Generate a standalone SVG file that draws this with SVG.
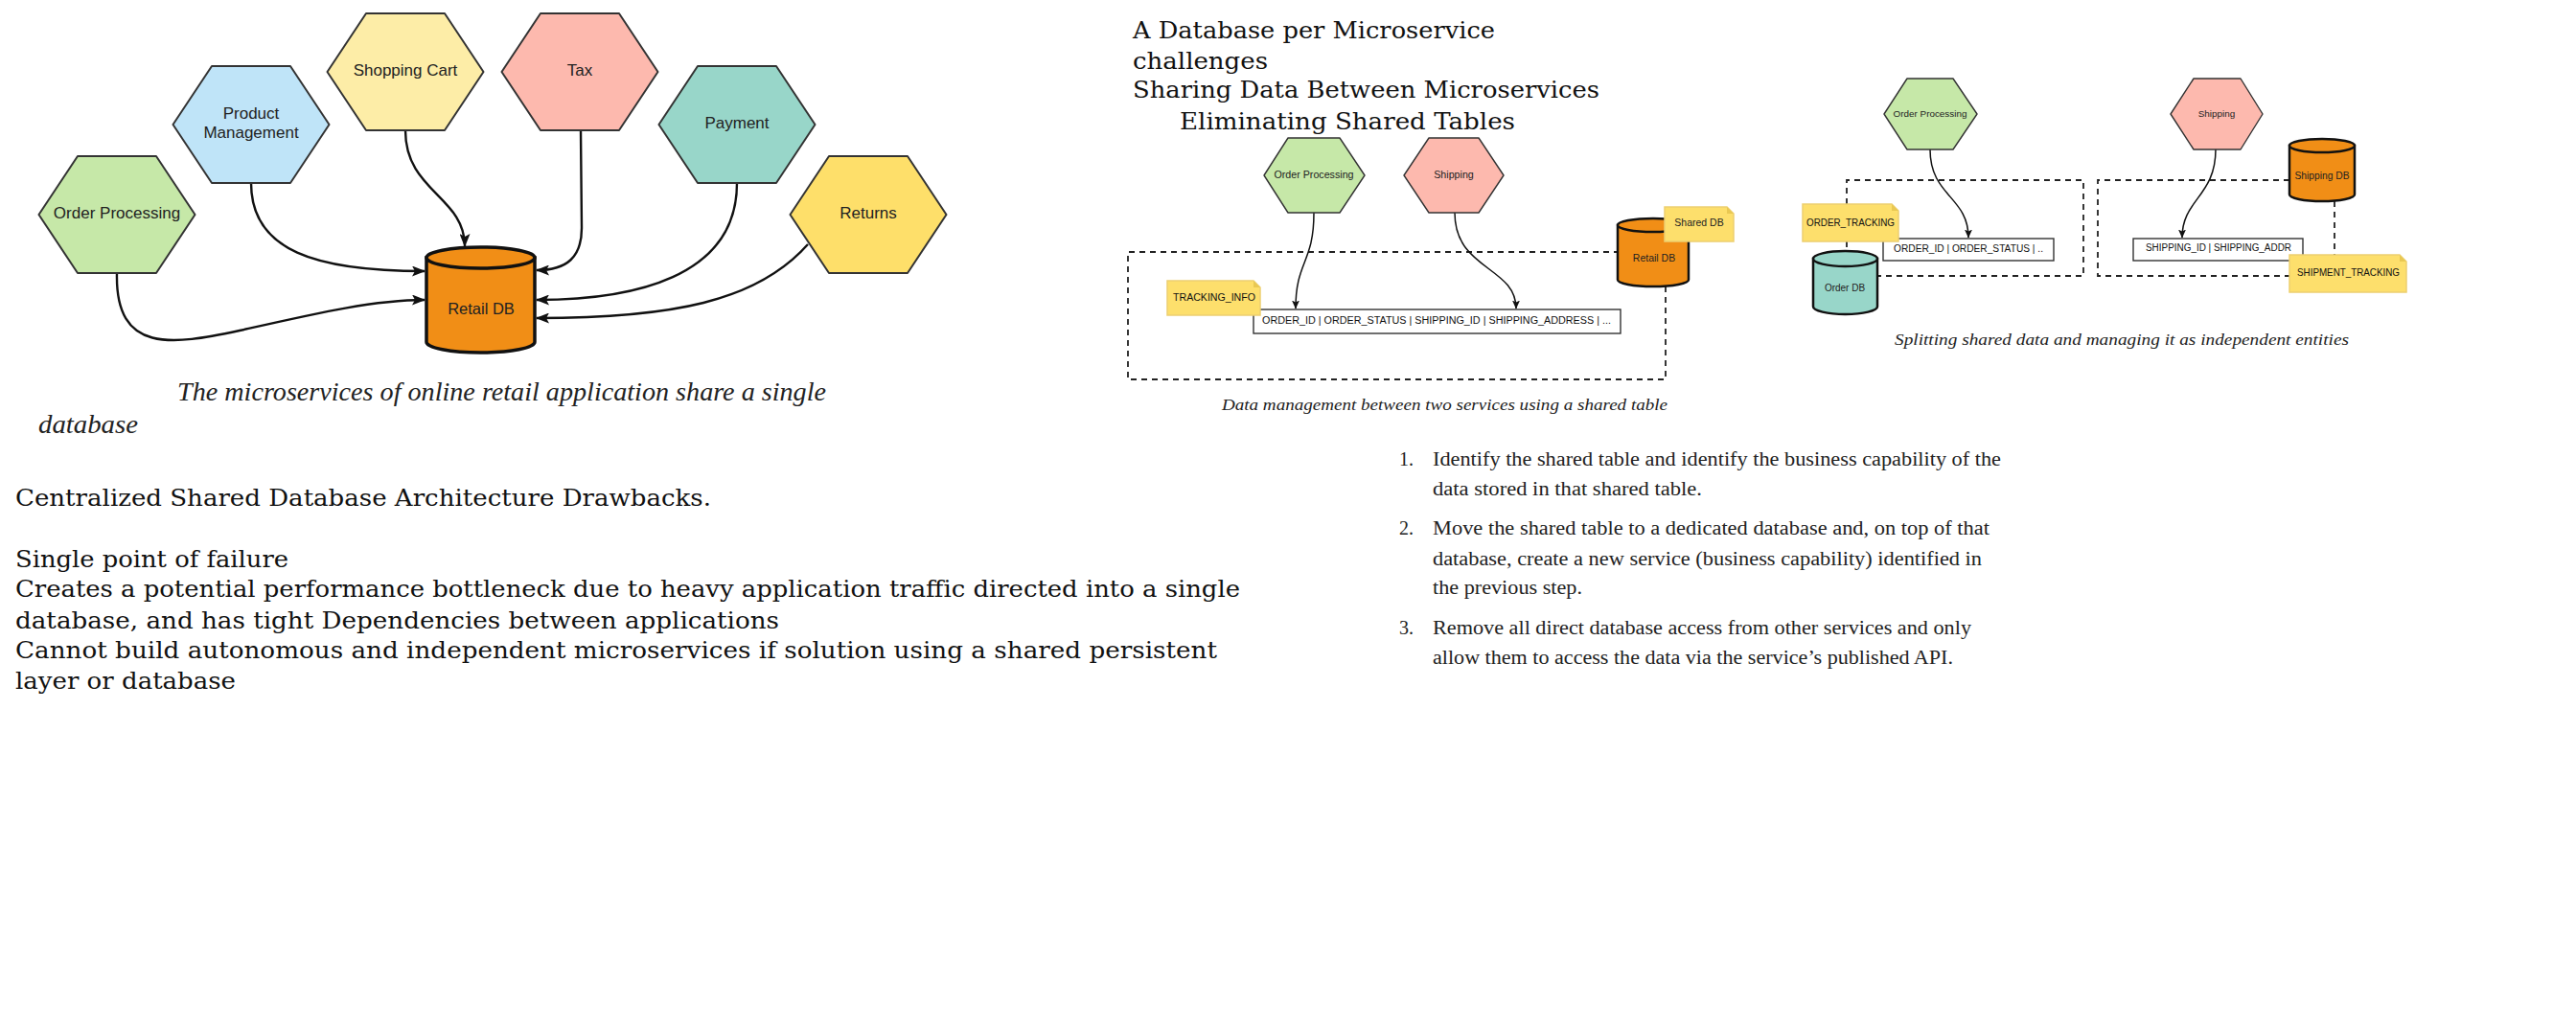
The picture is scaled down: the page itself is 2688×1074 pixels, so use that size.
<svg xmlns="http://www.w3.org/2000/svg" width="2688" height="1074" viewBox="0 0 2688 1074">
<style>
.hex{stroke:#333;stroke-width:2;stroke-linejoin:round}
.hexs{stroke:#333;stroke-width:1.4;stroke-linejoin:round}
.lbl{font-family:"Liberation Sans",Arial,sans-serif;fill:#222;text-anchor:middle}
.db{fill:#F18E16;stroke:#111;stroke-width:3.5}
.dbs{stroke:#111;stroke-width:2.5}
.note{fill:#FDDF6C;stroke:#EDD070;stroke-width:1.5}
.fold{fill:#E9C853}
.dash{fill:none;stroke:#222;stroke-width:1.8;stroke-dasharray:6 5}
.tbl{fill:#fff;stroke:#333;stroke-width:1.4}
.con{fill:none;stroke:#111;stroke-width:2.4}
.cons{fill:none;stroke:#111;stroke-width:1.5}
.ser{font-family:"DejaVu Serif",serif;font-size:24px;fill:#111}
.cap{font-family:"Liberation Serif",serif;font-style:italic;fill:#222}
.lst{font-family:"Liberation Serif",serif;font-size:20px;fill:#222}
.mono{font-family:"Liberation Sans",Arial,sans-serif;fill:#111}
</style>
<defs>
<marker id="ah" viewBox="0 0 14 11" refX="13" refY="5.5" markerWidth="14" markerHeight="11" markerUnits="userSpaceOnUse" orient="auto"><path d="M0,0 L14,5.5 L0,11 L3,5.5 Z" fill="#111"/></marker>
<marker id="ahs" viewBox="0 0 9 8" refX="8.5" refY="4" markerWidth="9" markerHeight="8" markerUnits="userSpaceOnUse" orient="auto"><path d="M0,0 L9,4 L0,8 L2,4 Z" fill="#111"/></marker>
</defs>
<rect width="2688" height="1074" fill="#fff"/>

<!-- Left diagram connectors -->
<g id="connectors-left">
<path class="con" d="M262,191 C262,262 330,283 443,283" marker-end="url(#ah)"/>
<path class="con" d="M423,136 C423,200 485,205 485,257" marker-end="url(#ah)"/>
<path class="con" d="M606,136 L607,238 C607,268 592,282 560,282" marker-end="url(#ah)"/>
<path class="con" d="M769,191 C769,290 660,313 560,313" marker-end="url(#ah)"/>
<path class="con" d="M843,255 C790,315 700,332 560,332" marker-end="url(#ah)"/>
<path class="con" d="M122,285 C120,370 180,360 250,345 C330,327 390,313 443,313" marker-end="url(#ah)"/>
</g>

<!-- Left diagram nodes -->
<g id="op-left"><polygon class="hex" fill="#C6E8A8" points="40.5,224 81,163 163,163 203.5,224 163,285 81,285"/><text class="lbl" x="122" y="228" font-size="17">Order Processing</text></g>
<g id="pm-left"><polygon class="hex" fill="#BFE4F8" points="180.5,130 221,69 303,69 343.5,130 303,191 221,191"/><text class="lbl" x="262" y="124" font-size="17">Product</text><text class="lbl" x="262" y="144" font-size="17">Management</text></g>
<g id="sc-left"><polygon class="hex" fill="#FDEDA7" points="341.5,75 382,14 464,14 504.5,75 464,136 382,136"/><text class="lbl" x="423" y="79" font-size="17">Shopping Cart</text></g>
<g id="tax-left"><polygon class="hex" fill="#FDB9AE" points="523.5,75 564,14 646,14 686.5,75 646,136 564,136"/><text class="lbl" x="605" y="79" font-size="17">Tax</text></g>
<g id="pay-left"><polygon class="hex" fill="#98D6C9" points="687.5,130 728,69 810,69 850.5,130 810,191 728,191"/><text class="lbl" x="769" y="134" font-size="17">Payment</text></g>
<g id="ret-left"><polygon class="hex" fill="#FEDF6A" points="824.5,224 865,163 947,163 987.5,224 947,285 865,285"/><text class="lbl" x="906" y="228" font-size="17">Returns</text></g>
<g id="retaildb-left">
<path class="db" d="M445,269 V357 A56.5,11 0 0 0 558,357 V269 Z"/>
<ellipse class="db" cx="501.5" cy="269" rx="56.5" ry="11"/>
<text class="lbl" x="502" y="328" font-size="16.5">Retail DB</text>
</g>

<text class="cap" x="185" y="418" font-size="27" textLength="677" lengthAdjust="spacingAndGlyphs">The microservices of online retail application share a single</text>
<text class="cap" x="40" y="452" font-size="27" textLength="104" lengthAdjust="spacingAndGlyphs">database</text>

<g id="drawbacks">
<text class="ser" x="16" y="528" textLength="726" lengthAdjust="spacingAndGlyphs">Centralized Shared Database Architecture Drawbacks.</text>
<text class="ser" x="16" y="592" textLength="285" lengthAdjust="spacingAndGlyphs">Single point of failure</text>
<text class="ser" x="16" y="623" textLength="1278" lengthAdjust="spacingAndGlyphs">Creates a potential performance bottleneck due to heavy application traffic directed into a single</text>
<text class="ser" x="16" y="656" textLength="797" lengthAdjust="spacingAndGlyphs">database, and has tight Dependencies between applications</text>
<text class="ser" x="16" y="687" textLength="1254" lengthAdjust="spacingAndGlyphs">Cannot build autonomous and independent microservices if solution using a shared persistent</text>
<text class="ser" x="16" y="719" textLength="230" lengthAdjust="spacingAndGlyphs">layer or database</text>
</g>

<g id="titles">
<text class="ser" x="1182" y="40" textLength="378" lengthAdjust="spacingAndGlyphs">A Database per Microservice</text>
<text class="ser" x="1182" y="72" textLength="141" lengthAdjust="spacingAndGlyphs">challenges</text>
<text class="ser" x="1182" y="102" textLength="487" lengthAdjust="spacingAndGlyphs">Sharing Data Between Microservices</text>
<text class="ser" x="1231" y="135" textLength="350" lengthAdjust="spacingAndGlyphs">Eliminating Shared Tables</text>
</g>

<!-- Middle diagram -->
<g id="shared-boundary"><path class="dash" d="M1690,263 H1177 V396 H1738 V299"/></g>
<g id="connectors-mid">
<path class="cons" d="M1371,222 C1371,275 1352,272 1352,322" marker-end="url(#ahs)"/>
<path class="cons" d="M1518,222 C1518,282 1582,278 1582,322" marker-end="url(#ahs)"/>
</g>
<g id="op-mid"><polygon class="hexs" fill="#C6E8A8" points="1319,183 1344,144 1398,144 1424,183 1398,222 1344,222"/><text class="lbl" x="1371" y="186" font-size="10.7">Order Processing</text></g>
<g id="ship-mid"><polygon class="hexs" fill="#FDB9AE" points="1465,183 1491,144 1543,144 1569,183 1543,222 1491,222"/><text class="lbl" x="1517" y="186" font-size="10.7">Shipping</text></g>
<g id="table-mid"><rect class="tbl" x="1308" y="323" width="383" height="25"/><text class="mono" x="1317" y="338" font-size="10" textLength="364" lengthAdjust="spacingAndGlyphs">ORDER_ID | ORDER_STATUS |  SHIPPING_ID | SHIPPING_ADDRESS | ...</text></g>
<g id="tracking-info"><path class="note" d="M1218,293 H1308 L1315,300 V329 H1218 Z"/><path class="fold" d="M1308,293 V300 H1315 Z"/><text class="mono" x="1224" y="314" font-size="10.5" textLength="86" lengthAdjust="spacingAndGlyphs">TRACKING_INFO</text></g>
<g id="retaildb-mid">
<path class="db dbs" d="M1688,235 V292 A37,7 0 0 0 1762,292 V235 Z"/>
<ellipse class="db dbs" cx="1725" cy="235" rx="37" ry="7"/>
<text class="lbl" x="1726" y="273" font-size="10.5">Retail DB</text>
</g>
<g id="shareddb-note"><path class="note" d="M1737,216 H1802 L1809,223 V252 H1737 Z"/><path class="fold" d="M1802,216 V223 H1809 Z"/><text class="lbl" x="1773" y="236" font-size="10.5">Shared DB</text></g>
<text class="cap" x="1275" y="428" font-size="17" textLength="465" lengthAdjust="spacingAndGlyphs">Data management between two services using a shared table</text>

<!-- Right diagram -->
<g id="order-boundary"><path class="dash" d="M1927,213 V188 H2174 V288 H1959"/><path class="dash" d="M1927,252 V262"/></g>
<g id="shipping-boundary"><path class="dash" d="M2389,188 H2189 V288 H2389"/><path class="dash" d="M2436,210 V266"/></g>
<g id="connectors-right">
<path class="cons" d="M2014,156 C2014,205 2054,205 2054,248" marker-end="url(#ahs)"/>
<path class="cons" d="M2312,156 C2312,205 2277,208 2277,248" marker-end="url(#ahs)"/>
</g>
<g id="op-right"><polygon class="hexs" fill="#C6E8A8" points="1966,119 1990,82 2038,82 2063,119 2038,156 1990,156"/><text class="lbl" x="2014" y="122" font-size="9.9">Order Processing</text></g>
<g id="ship-right"><polygon class="hexs" fill="#FDB9AE" points="2265,119 2289,82 2338,82 2361,119 2338,156 2289,156"/><text class="lbl" x="2313" y="122" font-size="9.9">Shipping</text></g>
<g id="table-order"><rect class="tbl" x="1965" y="249" width="178" height="23"/><text class="mono" x="1976" y="263" font-size="10" textLength="156" lengthAdjust="spacingAndGlyphs">ORDER_ID | ORDER_STATUS |  ..</text></g>
<g id="table-ship"><rect class="tbl" x="2226" y="249" width="177" height="23"/><text class="mono" x="2239" y="262" font-size="10" textLength="152" lengthAdjust="spacingAndGlyphs">SHIPPING_ID | SHIPPING_ADDR</text></g>
<g id="order-tracking"><path class="note" d="M1881,213 H1974 L1981,220 V252 H1881 Z"/><path class="fold" d="M1974,213 V220 H1981 Z"/><text class="mono" x="1885" y="236" font-size="10.5" textLength="92" lengthAdjust="spacingAndGlyphs">ORDER_TRACKING</text></g>
<g id="orderdb">
<path class="dbs" fill="#98D6C9" d="M1892,270 V320 A33.5,8 0 0 0 1959,320 V270 Z"/>
<ellipse class="dbs" fill="#98D6C9" cx="1925.5" cy="270" rx="33.5" ry="8"/>
<text class="lbl" x="1925" y="304" font-size="10">Order DB</text>
</g>
<g id="shippingdb">
<path class="db dbs" d="M2389,152 V203 A34,7 0 0 0 2457,203 V152 Z"/>
<ellipse class="db dbs" cx="2423" cy="152" rx="34" ry="7"/>
<text class="lbl" x="2423" y="187" font-size="10.3">Shipping DB</text>
</g>
<g id="shipment-tracking"><path class="note" d="M2389,266 H2504 L2511,273 V305 H2389 Z"/><path class="fold" d="M2504,266 V273 H2511 Z"/><text class="mono" x="2397" y="288" font-size="10.5" textLength="107" lengthAdjust="spacingAndGlyphs">SHIPMENT_TRACKING</text></g>
<text class="cap" x="1977" y="360" font-size="17" textLength="474" lengthAdjust="spacingAndGlyphs">Splitting shared data and managing it as independent entities</text>

<!-- Steps list -->
<g id="steps">
<text class="lst" x="1460" y="486">1.</text>
<text class="lst" x="1495" y="486" textLength="593" lengthAdjust="spacingAndGlyphs">Identify the shared table and identify the business capability of the</text>
<text class="lst" x="1495" y="517" textLength="281" lengthAdjust="spacingAndGlyphs">data stored in that shared table.</text>
<text class="lst" x="1460" y="558">2.</text>
<text class="lst" x="1495" y="558" textLength="581" lengthAdjust="spacingAndGlyphs">Move the shared table to a dedicated database and, on top of that</text>
<text class="lst" x="1495" y="590" textLength="573" lengthAdjust="spacingAndGlyphs">database, create a new service (business capability) identified in</text>
<text class="lst" x="1495" y="620" textLength="156" lengthAdjust="spacingAndGlyphs">the previous step.</text>
<text class="lst" x="1460" y="662">3.</text>
<text class="lst" x="1495" y="662" textLength="562" lengthAdjust="spacingAndGlyphs">Remove all direct database access from other services and only</text>
<text class="lst" x="1495" y="693" textLength="543" lengthAdjust="spacingAndGlyphs">allow them to access the data via the service’s published API.</text>
</g>
</svg>
